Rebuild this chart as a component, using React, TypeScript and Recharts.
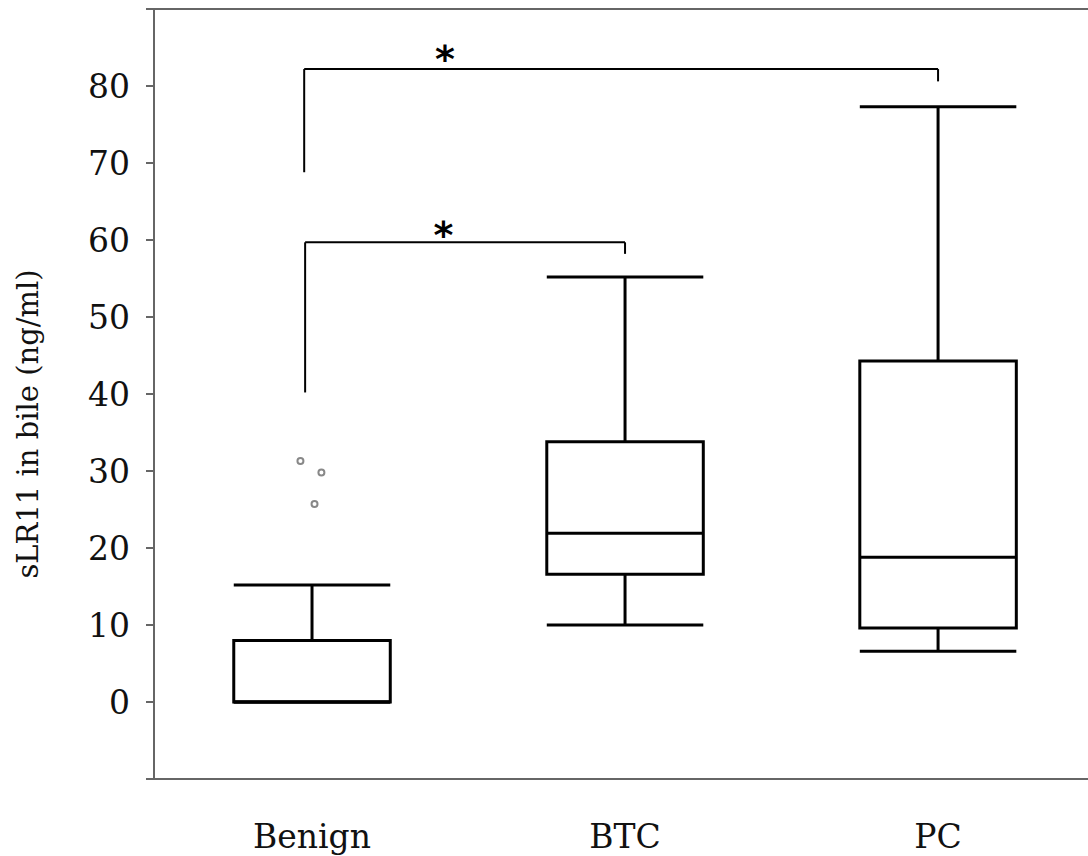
import {
  ComposedChart,
  XAxis,
  YAxis,
  Scatter,
  ReferenceArea,
  ReferenceLine,
  ReferenceDot,
  Label,
} from "recharts";

const categories = ["Benign", "BTC", "PC"];
const groupX = [1, 2, 3];
const whiskerLow = [0, 10.0, 6.6];
const q1 = [0, 16.6, 9.6];
const median = [0, 21.9, 18.8];
const q3 = [8.0, 33.8, 44.3];
const whiskerHigh = [15.2, 55.2, 77.3];

// outliers of the Benign group (slightly jittered)
const outliers = [
  { x: 0.963, y: 31.3 },
  { x: 1.03, y: 29.8 },
  { x: 1.008, y: 25.7 },
];

// significance brackets: left leg x, right leg x, leg ends, star spot
const brackets = [
  { x1: 0.975, x2: 3, yLeft: 68.8, yTop: 82.2, yRight: 80.6, starX: 1.425, starY: 84.4 },
  { x1: 0.978, x2: 2, yLeft: 40.2, yTop: 59.7, yRight: 58.2, starX: 1.42, starY: 61.6 },
];

const yTicks = [-10, 0, 10, 20, 30, 40, 50, 60, 70, 80, 90];

const AXIS = "#666";
const SERIF = "DejaVu Serif";
const BOX_W = 0.25;

function XTick({ x, y, payload }: any) {
  const name = categories[groupX.indexOf(payload.value)] ?? "";
  return (
    <text x={x} y={y + 67} textAnchor="middle" fontFamily={SERIF} fontSize={33} fill="#111">
      {name}
    </text>
  );
}

function Outlier({ cx, cy }: any) {
  return <circle cx={cx} cy={cy} r={3} fill="#fff" stroke="#888" strokeWidth={2} />;
}

function Star({ cx, cy }: any) {
  return (
    <text x={cx} y={cy + 20} textAnchor="middle" fontFamily="DejaVu Sans" fontWeight="bold" fontSize={38} fill="#000">
      *
    </text>
  );
}

export default function App() {
  const box = { stroke: "#000", strokeWidth: 3 };
  return (
    <div style={{ position: "absolute", left: 0, top: 0, background: "#fff" }}>
      <ComposedChart width={1088} height={856} margin={{ top: 9, right: 0, bottom: 0, left: 0 }}>
        <XAxis
          type="number"
          dataKey="x"
          domain={[0.4952, 3.479]}
          ticks={groupX}
          allowDataOverflow
          height={77}
          tickSize={0}
          tickLine={false}
          axisLine={{ stroke: AXIS, strokeWidth: 2 }}
          tick={<XTick />}
        />
        <YAxis
          type="number"
          dataKey="y"
          domain={[-10, 90]}
          ticks={yTicks}
          allowDataOverflow
          width={154}
          tickSize={8}
          tickMargin={16}
          tickFormatter={(v: number) => (v < 0 || v > 80 ? "" : String(v))}
          tick={{ fill: "#111", fontSize: 33, fontFamily: SERIF }}
          tickLine={{ stroke: AXIS, strokeWidth: 2 }}
          axisLine={{ stroke: AXIS, strokeWidth: 2 }}
        >
          <Label
            content={() => (
              <text
                x={28}
                y={424}
                transform="rotate(-90 28 424)"
                textAnchor="middle"
                dominantBaseline="central"
                fontFamily={SERIF}
                fontSize={29}
                fill="#111"
              >
                sLR11 in bile (ng/ml)
              </text>
            )}
          />
        </YAxis>

        <ReferenceLine y={90} stroke={AXIS} strokeWidth={2} />

        {groupX.map((gx, i) => (
          <ReferenceLine
            key={`wl${i}`}
            segment={[{ x: gx, y: whiskerLow[i] }, { x: gx, y: q1[i] }]}
            {...box}
          />
        ))}
        {groupX.map((gx, i) => (
          <ReferenceLine
            key={`wh${i}`}
            segment={[{ x: gx, y: q3[i] }, { x: gx, y: whiskerHigh[i] }]}
            {...box}
          />
        ))}
        {groupX.map((gx, i) => (
          <ReferenceLine
            key={`cl${i}`}
            segment={[{ x: gx - BOX_W, y: whiskerLow[i] }, { x: gx + BOX_W, y: whiskerLow[i] }]}
            {...box}
          />
        ))}
        {groupX.map((gx, i) => (
          <ReferenceLine
            key={`ch${i}`}
            segment={[{ x: gx - BOX_W, y: whiskerHigh[i] }, { x: gx + BOX_W, y: whiskerHigh[i] }]}
            {...box}
          />
        ))}
        {groupX.map((gx, i) => (
          <ReferenceArea
            key={`bx${i}`}
            x1={gx - BOX_W}
            x2={gx + BOX_W}
            y1={q1[i]}
            y2={q3[i]}
            fill="#fff"
            fillOpacity={1}
            {...box}
          />
        ))}
        {groupX.map((gx, i) => (
          <ReferenceLine
            key={`md${i}`}
            segment={[{ x: gx - BOX_W, y: median[i] }, { x: gx + BOX_W, y: median[i] }]}
            {...box}
          />
        ))}

        {brackets.map((b, i) => (
          <ReferenceLine
            key={`bl${i}`}
            segment={[{ x: b.x1, y: b.yLeft }, { x: b.x1, y: b.yTop }]}
            stroke="#000"
            strokeWidth={2}
          />
        ))}
        {brackets.map((b, i) => (
          <ReferenceLine
            key={`bt${i}`}
            segment={[{ x: b.x1, y: b.yTop }, { x: b.x2, y: b.yTop }]}
            stroke="#000"
            strokeWidth={2}
          />
        ))}
        {brackets.map((b, i) => (
          <ReferenceLine
            key={`br${i}`}
            segment={[{ x: b.x2, y: b.yTop }, { x: b.x2, y: b.yRight }]}
            stroke="#000"
            strokeWidth={2}
          />
        ))}
        {brackets.map((b, i) => (
          <ReferenceDot key={`st${i}`} x={b.starX} y={b.starY} r={0} shape={<Star />} />
        ))}

        <Scatter data={outliers} dataKey="y" shape={<Outlier />} isAnimationActive={false} />
      </ComposedChart>
    </div>
  );
}
